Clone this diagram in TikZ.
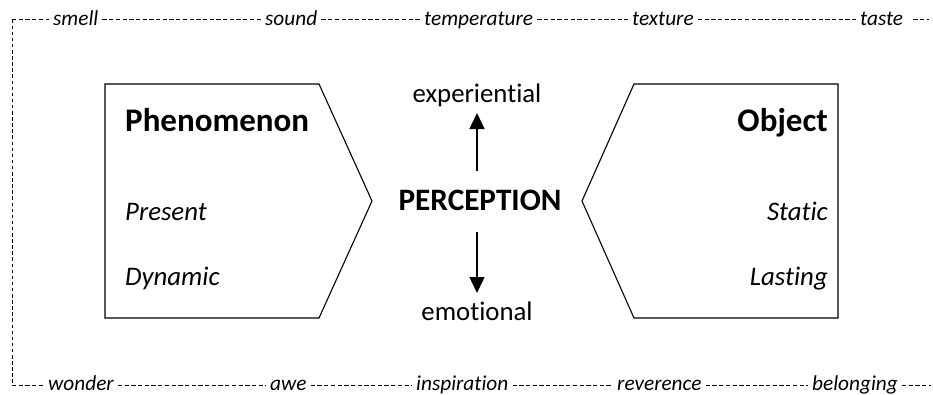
\documentclass[tikz,border=0pt]{standalone}
\usepackage{fontspec}
\setmainfont{Carlito}[Ligatures=NoCommon]
\usetikzlibrary{arrows.meta}
\tikzset{
  word/.style={font=\fontsize{21.3}{24}\selectfont\itshape, inner xsep=4pt, inner ysep=0pt, anchor=base west},
  dashline/.style={line width=1.0pt, dash pattern=on 4.3pt off 2.4pt},
  vdashline/.style={line width=0.8pt, dash pattern=on 3.5pt off 2.6pt},
  boxline/.style={line width=1.1pt, line join=miter},
  title/.style={font=\fontsize{33}{38}\selectfont\bfseries, inner sep=0pt},
  ctitle/.style={font=\fontsize{31.2}{36}\selectfont\bfseries, inner sep=0pt},
  item/.style={font=\fontsize{26.8}{30}\selectfont\itshape, inner sep=0pt},
  axis/.style={font=\fontsize{26.8}{30}\selectfont, inner sep=0pt, anchor=base},
  arr/.style={line width=1.4pt, -{Triangle[width=15pt,length=16pt]}},
}
\begin{document}
\begin{tikzpicture}[x=1pt,y=-1pt]
\useasboundingbox (0,0) rectangle (933,394);
% frame corners
\coordinate (tl) at (12,19.5);
\coordinate (tr) at (929,19.5);
\coordinate (bl) at (12,385);
\coordinate (br) at (931,385);
% top words
\node[word] (smell) at (49,25.5) {smell};
\node[word] (sound) at (261,25.5) {sound};
\node[word] (temp) at (420,25.5) {temperature};
\node[word] (texture) at (628,25.5) {texture};
\node[word] (taste) at (856,25.5) {taste};
% bottom words
\node[word] (wonder) at (44,390) {wonder};
\node[word] (awe) at (266,390) {awe};
\node[word] (insp) at (412,390) {inspiration};
\node[word] (rev) at (613,390) {reverence};
\node[word] (belong) at (808,390) {belonging};
% dashed frame
\draw[dashline] (tl) -- (smell.west |- tl);
\draw[dashline] (smell.east |- tl) -- (sound.west |- tl);
\draw[dashline] (sound.east |- tl) -- (temp.west |- tl);
\draw[dashline] (temp.east |- tl) -- (texture.west |- tl);
\draw[dashline] (texture.east |- tl) -- (taste.west |- tl);
\draw[dashline] (taste.east |- tl) ++(6,0) -- (tr);
\draw[vdashline] (tl) -- (bl);
\draw[dashline] (bl) -- (wonder.west |- bl);
\draw[dashline] (wonder.east |- bl) -- (awe.west |- bl);
\draw[dashline] (awe.east |- bl) -- (insp.west |- bl);
\draw[dashline] (insp.east |- bl) -- (rev.west |- bl);
\draw[dashline] (rev.east |- bl) -- (belong.west |- bl);
\draw[dashline] (belong.east |- bl) -- (br);
% pentagons
\draw[boxline] (105,84) -- (319,84) -- (372,201) -- (319,318) -- (105,318) -- cycle;
\draw[boxline] (838,84) -- (634,84) -- (582,201) -- (634,318) -- (838,318) -- cycle;
% left texts
\node[title, anchor=base west] (phen) at (125,131.5) {Phenomenon};
\node[item, anchor=base west] (pres) at (125,220.5) {Present};
\node[item, anchor=base west] (dyn) at (125,285.5) {Dynamic};
% right texts
\node[title, anchor=base east] (obj) at (828,131.5) {Object};
\node[item, anchor=base east] (stat) at (828,220) {Static};
\node[item, anchor=base east] (last) at (828,285.5) {Lasting};
% centre
\node[ctitle, anchor=base] (perc) at (480,210) {PERCEPTION};
\node[axis] (exp) at (477,102.5) {experiential};
\node[axis] (emo) at (477,320) {emotional};
\coordinate (up0) at (477,171);
\coordinate (up1) at (477,113);
\coordinate (dn0) at (477,232);
\coordinate (dn1) at (477,293);
\draw[arr] (up0) -- (up1);
\draw[arr] (dn0) -- (dn1);
\end{tikzpicture}
\end{document}
